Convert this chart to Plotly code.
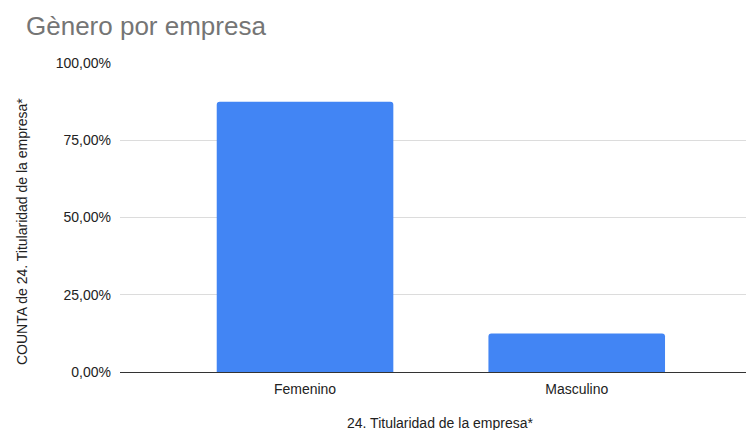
import plotly.graph_objects as go

categories = ["Femenino", "Masculino"]
values = [87.5, 12.5]
tick_vals = [0, 25, 50, 75, 100]
tick_text = ["0,00%", "25,00%", "50,00%", "75,00%", "100,00%"]

title = "Gènero por empresa"
x_title = "24. Titularidad de la empresa*"
y_title = "COUNTA de 24. Titularidad de la empresa*"

font_family = "Liberation Sans, Arial, sans-serif"

fig = go.Figure(go.Bar(
    x=categories, y=values,
    marker=dict(color="#4285F4", line=dict(width=0)),
    width=0.65,
))

W, H = 747, 430
ml, mr, mt, mb = 120, 1, 63, 58

fig.update_layout(
    width=W, height=H,
    margin=dict(l=ml, r=mr, t=mt, b=mb),
    plot_bgcolor="white", paper_bgcolor="white",
    barcornerradius=3,
    font=dict(family=font_family, size=14, color="#222222"),
    title=dict(text=title, x=26 / W, xanchor="left", xref="container",
               y=1 - 26 / H, yanchor="middle", yref="container",
               font=dict(size=26, color="#757575", family=font_family)),
    showlegend=False,
    xaxis=dict(
        type="category", range=[-0.681, 1.623],
        showgrid=False, showline=True, linecolor="#333333", linewidth=1,
        ticks="", tickfont=dict(size=14, color="#222222"), ticklabelstandoff=4,
        fixedrange=True,
    ),
    yaxis=dict(
        range=[0, 100], tickvals=tick_vals, ticktext=tick_text,
        showgrid=True, gridcolor="#dcdcdc", gridwidth=1,
        zeroline=False, showline=False, ticks="",
        tickfont=dict(size=14, color="#222222"), ticklabelstandoff=8,
    ),
)

fig.add_annotation(text=x_title, xref="x", x=0.5, yref="paper",
                   y=-(423 - 372) / (H - mt - mb), yanchor="middle",
                   showarrow=False, font=dict(size=14, color="#222222"))
fig.add_annotation(text=y_title, xref="paper", x=-(ml - 22) / (W - ml - mr),
                   xanchor="center", yref="paper", y=(372 - 232) / (H - mt - mb),
                   yanchor="middle", textangle=-90, showarrow=False,
                   font=dict(size=14, color="#222222"))

fig.write_html("out.html")
